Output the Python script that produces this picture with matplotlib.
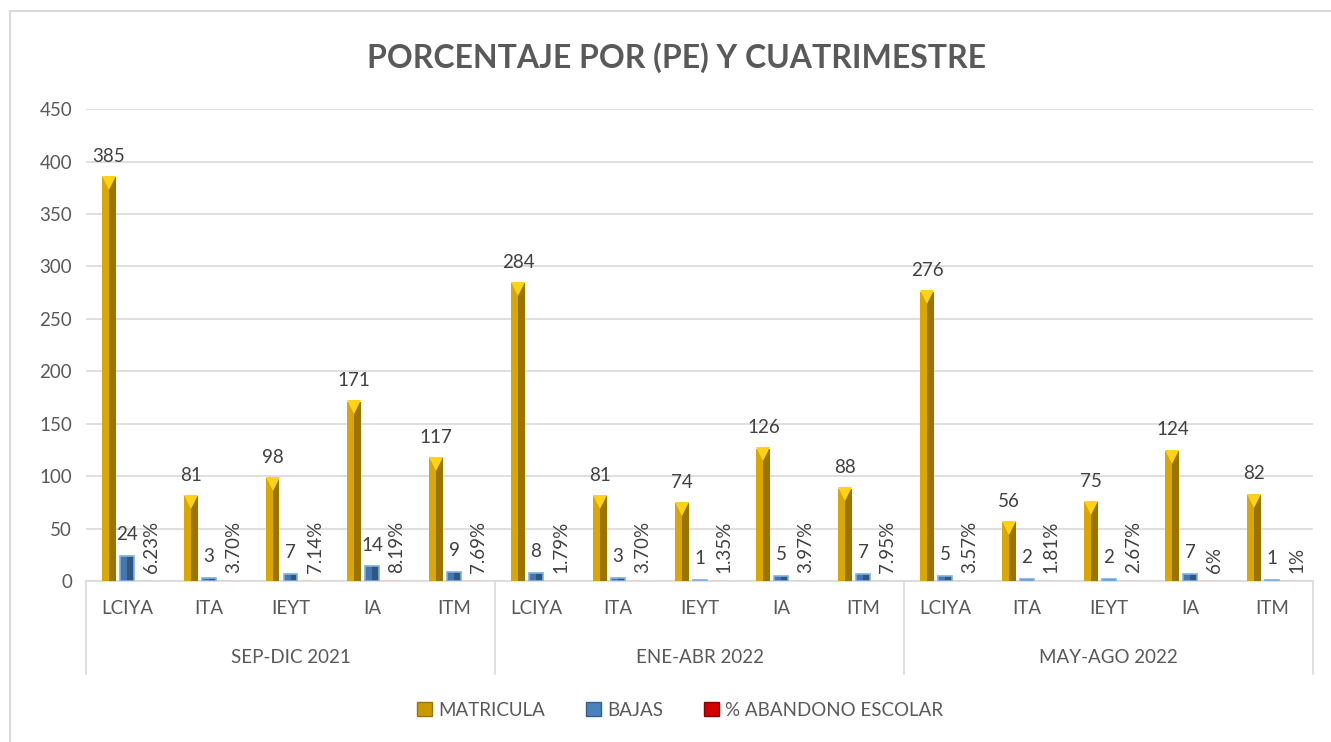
#! /usr/bin/env python
# coding: utf-8
"""Matricula, bajas y % de abandono escolar por PE y cuatrimestre."""

import numpy as np
import matplotlib
matplotlib.use('Agg')
import matplotlib.pyplot as plt
from matplotlib.patches import Patch, Rectangle
from matplotlib.transforms import blended_transform_factory, ScaledTranslation

plt.rcParams['font.family'] = ['Lato', 'DejaVu Sans']

programas = ['LCIYA', 'ITA', 'IEYT', 'IA', 'ITM']
periodos = ['SEP-DIC 2021', 'ENE-ABR 2022', 'MAY-AGO 2022']

matricula = [385, 81, 98, 171, 117,
             284, 81, 74, 126, 88,
             276, 56, 75, 124, 82]
bajas = [24, 3, 7, 14, 9,
         8, 3, 1, 5, 7,
         5, 2, 2, 7, 1]
abandono = [0.0623, 0.0370, 0.0714, 0.0819, 0.0769,
            0.0179, 0.0370, 0.0135, 0.0397, 0.0795,
            0.0357, 0.0181, 0.0267, 0.06, 0.01]
abandono_etiq = ['6.23%', '3.70%', '7.14%', '8.19%', '7.69%',
                 '1.79%', '3.70%', '1.35%', '3.97%', '7.95%',
                 '3.57%', '1.81%', '2.67%', '6%', '1%']

GRIS = '#595959'


def barra_bisel(ax, x, h, w, claro, oscuro, borde=None):
    """Bar drawn as two faces to imitate the Excel bevel."""
    ax.bar(x - w / 4, h, w / 2, color=claro, zorder=3, linewidth=0)
    ax.bar(x + w / 4, h, w / 2, color=oscuro, zorder=3, linewidth=0)
    if borde:
        ax.bar(x, h, w, facecolor='none', edgecolor=borde, linewidth=1.2,
               zorder=4)


def main():
    fig = plt.figure(figsize=(13.31, 7.42), dpi=100)
    ax = fig.add_axes([0.0646, 0.217, 0.922, 0.636])

    n = len(matricula)
    x = np.arange(n)
    w = 0.17
    off = 0.22

    barra_bisel(ax, x - off, matricula, w, '#DAA600', '#9A7400')
    # punta de piramide amarilla en la cara superior
    baja = ScaledTranslation(0, -4.0 / 72, fig.dpi_scale_trans)
    ax.plot(x - off, matricula, linestyle='none', marker='v', ms=9.5,
            color='#FFD21A', markeredgewidth=0, zorder=5,
            transform=ax.transData + baja)
    barra_bisel(ax, x, bajas, w, '#4677AC', '#2F5780', borde='#7FB0E0')
    barra_bisel(ax, x + off, abandono, w, '#F2C6C6', '#E8B4B4', borde='#F2C8C8')

    for i in range(n):
        ax.annotate(str(matricula[i]), (x[i] - off, matricula[i]),
                    xytext=(0, 9), textcoords='offset points',
                    ha='center', va='bottom', fontsize=13.5, color='#404040')
        ax.annotate(str(bajas[i]), (x[i], bajas[i]),
                    xytext=(0, 9), textcoords='offset points',
                    ha='center', va='bottom', fontsize=13.5, color='#404040')
        ax.annotate(abandono_etiq[i], (x[i] + off + 0.08, abandono[i]),
                    xytext=(0, 6), textcoords='offset points', rotation=90,
                    ha='center', va='bottom', fontsize=13.5, color='#404040')

    ax.set_xlim(-0.5, n - 0.5)
    ax.set_ylim(0, 450)
    ax.set_yticks(np.arange(0, 451, 50))
    ax.yaxis.grid(True, color='#D9D9D9', linewidth=1.2, zorder=0)
    ax.set_axisbelow(True)
    for lado in ['left', 'right', 'top']:
        ax.spines[lado].set_visible(False)
    ax.spines['bottom'].set_color('#D9D9D9')
    ax.spines['bottom'].set_linewidth(1.2)
    ax.tick_params(axis='y', length=0, labelsize=13.5, labelcolor=GRIS, pad=10)

    # eje de categorias en dos niveles
    ax.set_xticks(x)
    ax.set_xticklabels(programas * len(periodos))
    ax.tick_params(axis='x', length=0, labelsize=13.5, labelcolor=GRIS, pad=14)
    trans = blended_transform_factory(ax.transData, ax.transAxes)
    k = len(programas)
    for j, periodo in enumerate(periodos):
        ax.text(j * k + (k - 1) / 2, -0.163, periodo, transform=trans,
                ha='center', va='center', fontsize=13.5, color=GRIS)
    for j in range(len(periodos) + 1):
        ax.plot([j * k - 0.5, j * k - 0.5], [0, -0.197], transform=trans,
                color='#D9D9D9', linewidth=1.2, clip_on=False)

    fig.text(0.508, 0.922, 'PORCENTAJE POR (PE) Y CUATRIMESTRE',
             ha='center', va='center', fontsize=23, fontweight='bold',
             color=GRIS)

    handles = [Patch(facecolor='#C99A00', edgecolor='#9A7400'),
               Patch(facecolor='#4A82BD', edgecolor='#355F8C'),
               Patch(facecolor='#D40000', edgecolor='#900000')]
    fig.legend(handles, ['MATRICULA', 'BAJAS', '% ABANDONO ESCOLAR'],
               loc='center', bbox_to_anchor=(0.511, 0.043), ncol=3,
               frameon=False, fontsize=13.5, handlelength=0.8,
               handleheight=0.8, handletextpad=0.3, columnspacing=2.2,
               labelcolor=GRIS)

    fig.patches.append(Rectangle((0.0075, -0.01), 1.0, 0.995,
                                 transform=fig.transFigure, fill=False,
                                 edgecolor='#D9D9D9', linewidth=1.5))

    plt.savefig('out.png', dpi=100)
    plt.close()


if __name__ == '__main__':
    main()
